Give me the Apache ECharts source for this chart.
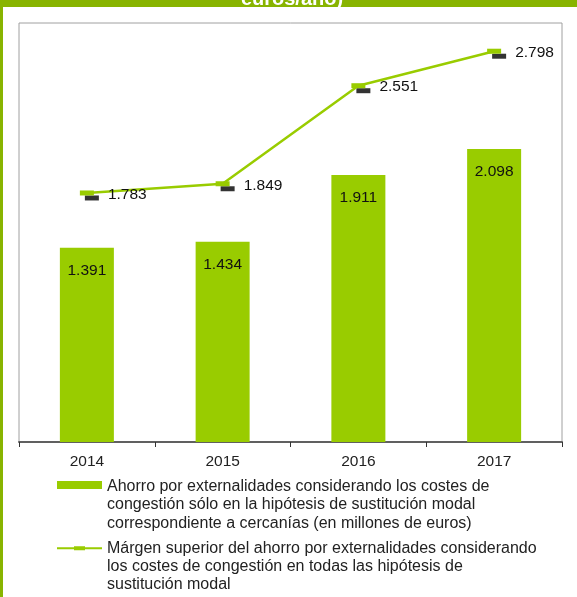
<!DOCTYPE html>
<html>
<head>
<meta charset="utf-8">
<script src="https://cdn.jsdelivr.net/npm/echarts@6/dist/echarts.min.js"></script>
<style>
  html, body { margin: 0; padding: 0; background: #ffffff; }
  #chart { width: 577px; height: 597px; }
</style>
</head>
<body>
<div id="chart"></div>
<script>
// Years on the category axis
const years = ['2014', '2015', '2016', '2017'];
// Savings counting congestion only for commuter-rail substitution (M€)
const ahorroCercanias = [1.391, 1.434, 1.911, 2.098];
// Upper bound of savings counting congestion in all substitution cases (M€)
const margenSuperior = [1.783, 1.849, 2.551, 2.798];

const nameBarras = 'Ahorro por externalidades considerando los costes de\ncongestión sólo en la hipótesis de sustitución modal\ncorrespondiente a cercanías (en millones de euros)';
const nameLinea = 'Márgen superior del ahorro por externalidades considerando\nlos costes de congestión en todas las hipótesis de\nsustitución modal';

const FONT = '"Liberation Sans", Arial, sans-serif';
const GREEN = '#99cc00';
const FRAME = '#88b400';
const fmt = p => Number(p.value).toFixed(3);

const chart = echarts.init(document.getElementById('chart'), null, { renderer: 'canvas' });

chart.setOption({
  animation: false,
  backgroundColor: '#ffffff',
  textStyle: { fontFamily: FONT },
  graphic: [
    { type: 'rect', shape: { x: 0, y: 0, width: 577, height: 7 }, style: { fill: FRAME }, z: 10 },
    { type: 'rect', shape: { x: 0, y: 0, width: 3, height: 597 }, style: { fill: FRAME }, z: 10 },
    {
      type: 'text', x: 292, y: -1, z: 11,
      style: {
        text: 'euros/año)', fill: '#ffffff', font: 'bold 20px ' + FONT,
        textAlign: 'center', textVerticalAlign: 'middle'
      }
    }
  ],
  grid: {
    left: 19, right: 15, top: 23, bottom: 155,
    show: true, borderColor: '#a0a0a0', borderWidth: 1
  },
  legend: {
    orient: 'vertical',
    left: 57,
    top: 477.5,
    padding: 0,
    itemGap: 6.6,
    itemWidth: 45,
    itemHeight: 55,
    selectedMode: false,
    itemStyle: { borderWidth: 0 },
    textStyle: { fontFamily: FONT, fontSize: 16, color: '#222222', lineHeight: 18.33 },
    data: [
      { name: nameBarras, icon: 'path://M0 3.5 L45 3.5 L45 11.5 L0 11.5 Z M0 0 L0.01 0 L0.01 0.01 Z M0 55 L0.01 55 L0.01 54.99 Z' },
      { name: nameLinea, icon: 'path://M0 8.2 L45 8.2 L45 10.1 L0 10.1 Z M17 7.2 L28 7.2 L28 11.1 L17 11.1 Z M0 0 L0.01 0 L0.01 0.01 Z M0 55 L0.01 55 L0.01 54.99 Z' }
    ]
  },
  xAxis: {
    type: 'category',
    data: years,
    boundaryGap: true,
    axisLine: { show: true, lineStyle: { color: '#606060', width: 2 } },
    axisTick: { show: true, length: 5, lineStyle: { color: '#333333', width: 1 } },
    axisLabel: { fontFamily: FONT, fontSize: 15.5, color: '#222222', margin: 12 },
    splitLine: { show: false }
  },
  yAxis: {
    type: 'value',
    min: 0,
    max: 3,
    show: false,
    splitLine: { show: false }
  },
  series: [
    {
      name: nameBarras,
      type: 'bar',
      data: ahorroCercanias,
      barWidth: 54,
      itemStyle: { color: GREEN },
      label: {
        show: true, position: 'insideTop', distance: 15,
        fontFamily: FONT, fontSize: 15.5, color: '#111111', formatter: fmt
      },
      z: 2
    },
    {
      // dark tick drawn beside each upper-bound point
      name: 'marca',
      type: 'scatter',
      data: margenSuperior,
      symbol: 'rect',
      symbolSize: [14, 5],
      symbolOffset: [5, 5],
      itemStyle: { color: '#000000' },
      silent: true,
      z: 3
    },
    {
      name: nameLinea,
      type: 'line',
      data: margenSuperior,
      symbol: 'rect',
      symbolSize: [14, 5],
      showAllSymbol: true,
      lineStyle: { color: GREEN, width: 2.5 },
      itemStyle: { color: GREEN, borderWidth: 0 },
      label: {
        show: true, position: 'right', distance: 14, offset: [0, 1.5],
        fontFamily: FONT, fontSize: 15.5, color: '#111111', formatter: fmt
      },
      z: 4
    }
  ]
});
</script>
</body>
</html>
